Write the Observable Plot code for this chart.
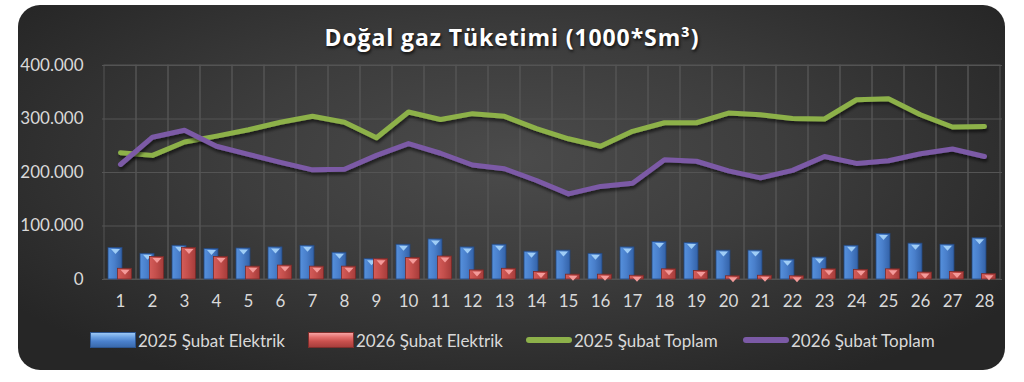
<!DOCTYPE html>
<html><head><meta charset="utf-8">
<script src="https://cdn.jsdelivr.net/npm/d3@7"></script>
<script src="https://cdn.jsdelivr.net/npm/@observablehq/plot@0.6"></script>
<style>
html,body{margin:0;padding:0;background:#fff;width:1024px;height:382px;overflow:hidden;}
#card{position:absolute;left:18px;top:5px;width:987px;height:365px;border-radius:22px;
  background:radial-gradient(ellipse 62% 70% at 50% 42%, #4b4b4b 0%, #3d3d3d 45%, #262626 100%);}
#title{position:absolute;left:0;top:22px;width:1024px;text-align:center;font-family:"Open Sans";font-weight:700;font-size:23px;line-height:30px;color:#fff;text-shadow:1px 2px 3px rgba(0,0,0,.75);letter-spacing:0.9px}
#chart{position:absolute;left:0;top:50px;}
.lg{position:absolute;top:331px;height:18px;display:flex;align-items:center;font-family:Lato;font-size:17px;color:#d9d9d9;white-space:nowrap}
.sw{width:46px;height:16px;margin-right:2px;box-sizing:border-box}
.ln{width:46px;height:6px;border-radius:3px;margin-right:2px}
</style>
</head><body>
<div id="card"></div>
<div id="title">Doğal gaz Tüketimi (1000*Sm³)</div>
<div id="chart"></div>
<div id="legend"></div>
<script>
const days = d3.range(1, 29);
const elektrik2025 = [59,48,63,57,58,60,63,50,38,65,75,60,65,52,54,48,60,70,68,54,54,37,41,63,85,67,65,77].map(v=>v*1000);
const elektrik2026 = [20,42,59,42,24,26,24,24,38,40,43,17,20,14,9,9,7,19,16,6,7,6,19,18,19,13,14,10].map(v=>v*1000);
const toplam2025 = [237,232,257,268,280,294,305,294,265,313,299,310,305,282,263,249,277,293,293,311,308,301,300,336,338,308,285,286].map(v=>v*1000);
const toplam2026 = [215,266,279,249,234,219,205,206,232,254,236,214,207,185,160,174,180,224,221,203,190,204,230,217,222,235,244,230].map(v=>v*1000);
const yTicks = [0,100000,200000,300000,400000];
const seriesNames = ["2025 Şubat Elektrik","2026 Şubat Elektrik","2025 Şubat Toplam","2026 Şubat Toplam"];

const data = days.map((d,i)=>({day:d, e25:elektrik2025[i], e26:elektrik2026[i], t25:toplam2025[i], t26:toplam2026[i]}));
const fmt = d => d === 0 ? "0" : d3.format(",")(d).replace(/,/g, ".");
const tri = {draw(ctx){ ctx.moveTo(-4.5,-2.5); ctx.lineTo(4.5,-2.5); ctx.lineTo(0,2.5); ctx.closePath(); }};
const grid = "#545454";

const plot = Plot.plot({
  width: 1024, height: 265,
  marginLeft: 102, marginRight: 22, marginTop: 15, marginBottom: 36,
  style: {fontFamily: "Lato", fontSize: "17px", color: "#d9d9d9", background: "transparent", overflow: "visible"},
  x: {type: "band", domain: days, padding: 0},
  y: {domain: [0, 400000]},
  marks: [
    Plot.barY(days, {x: d=>d, y1: 0, y2: 400000, fill: "none", stroke: grid, strokeWidth: 1}),
    Plot.ruleY(yTicks, {stroke: grid, strokeWidth: 1}),
    Plot.axisY({ticks: yTicks, tickSize: 0, tickPadding: 19, tickFormat: fmt, label: null}),
    Plot.axisX({tickSize: 0, tickPadding: 15, label: null}),
    Plot.barY(data, {x: "day", y: "e25", dx: -5, insetLeft: 9, insetRight: 9, fill: "url(#gb)", stroke: "#24487e", strokeWidth: 0.8}),
    Plot.dot(data, {x: "day", y: "e25", dx: -5, dy: 3.5, symbol: tri, r: 3, fill: "#9fcdf6", stroke: "none"}),
    Plot.barY(data, {x: "day", y: "e26", dx: 4.5, insetLeft: 9, insetRight: 9, fill: "url(#gr)", stroke: "#7a2a28", strokeWidth: 0.8}),
    Plot.dot(data, {x: "day", y: "e26", dx: 4.5, dy: 3.5, symbol: tri, r: 3, fill: "#f49a99", stroke: "none"}),
    Plot.line(data, {x: "day", y: "t25", stroke: "#8db14a", strokeWidth: 5, strokeLinejoin: "round", strokeLinecap: "round"}),
    Plot.line(data, {x: "day", y: "t26", stroke: "#7b5aa6", strokeWidth: 5, strokeLinejoin: "round", strokeLinecap: "round"})
  ]
});
plot.insertAdjacentHTML("afterbegin", `<defs>
<linearGradient id="gb" x1="0" x2="1" y1="0" y2="0"><stop offset="0" stop-color="#5590dc"/><stop offset="0.45" stop-color="#4a80cc"/><stop offset="1" stop-color="#3362a8"/></linearGradient>
<linearGradient id="gr" x1="0" x2="1" y1="0" y2="0"><stop offset="0" stop-color="#d45c59"/><stop offset="0.45" stop-color="#c44f4c"/><stop offset="1" stop-color="#a63c3a"/></linearGradient>
<filter id="sh" x="-5%" y="-20%" width="110%" height="150%"><feDropShadow dx="1" dy="3" stdDeviation="1.6" flood-color="#000" flood-opacity="0.55"/></filter>
</defs>`);
plot.querySelectorAll('g[aria-label="line"]').forEach(g => g.setAttribute("filter", "url(#sh)"));
document.getElementById("chart").appendChild(plot);

const legendItems = [
  {left: 90, kind: "sw", bg: "linear-gradient(#9cc8f5 0%, #6aa0e2 30%, #4a80cc 60%, #3a6aad 100%)", border: "#2c5590"},
  {left: 308, kind: "sw", bg: "linear-gradient(#f7a3a3 0%, #e46f6d 30%, #c8504d 60%, #a83e3c 100%)", border: "#7f2e2c"},
  {left: 526, kind: "ln", bg: "#8db14a"},
  {left: 743, kind: "ln", bg: "#7b5aa6"}
];
const lg = document.getElementById("legend");
legendItems.forEach((it, i) => {
  const div = document.createElement("div");
  div.className = "lg";
  div.style.left = it.left + "px";
  const s = document.createElement("div");
  s.className = it.kind;
  s.style.background = it.bg;
  if (it.border) s.style.border = "1px solid " + it.border;
  div.appendChild(s);
  const t = document.createElement("span");
  t.textContent = seriesNames[i];
  div.appendChild(t);
  lg.appendChild(div);
});
</script>
</body></html>
